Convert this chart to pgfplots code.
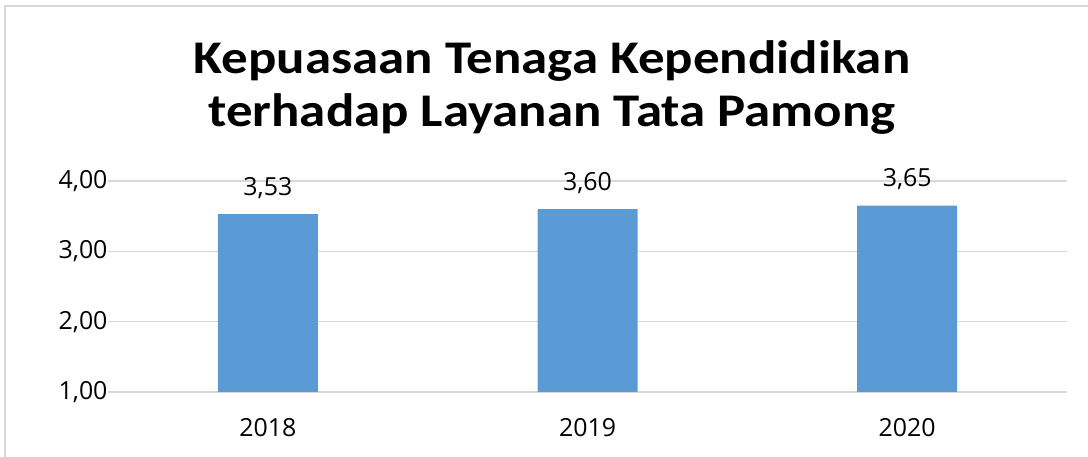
\documentclass[border=0pt]{standalone}
\usepackage{pgfplots}
\pgfplotsset{compat=1.18}
\usepackage{fontspec}
\setmainfont{Open Sans}
\newfontfamily\titlefont[FakeStretch=1.13]{Carlito}
\definecolor{barblue}{HTML}{5B9BD5}
\definecolor{gridgray}{HTML}{D9D9D9}
\begin{document}
\begin{tikzpicture}[x=1bp,y=1bp]
\useasboundingbox (0,0) rectangle (1088,457);
\draw[gridgray, line width=2bp] (5,-5) -- (5,451) -- (1095,451);
\node[anchor=base, font=\titlefont\bfseries\fontsize{47}{52}\selectfont] at (552,383) {Kepuasaan Tenaga Kependidikan};
\node[anchor=base, font=\titlefont\bfseries\fontsize{47}{52}\selectfont] at (552,330) {terhadap Layanan Tata Pamong};
\begin{axis}[
  at={(108bp,65bp)}, anchor=south west,
  scale only axis, width=959bp, height=211bp,
  xmin=-0.5, xmax=2.5, ymin=1, ymax=4,
  xtick={0,1,2}, xticklabels={2018,2019,2020},
  ytick={1,2,3,4},
  axis line style={draw=none},
  major tick length=0pt,
  ymajorgrids, grid style={gridgray, line width=1.2bp},
  /pgf/number format/.cd, fixed, fixed zerofill, precision=2, use comma, assume math mode=true,
  /pgfplots/.cd,
  yticklabel style={font=\fontsize{25}{28}\selectfont, anchor=east, xshift=3bp},
  xticklabel style={font=\fontsize{25}{28}\selectfont, yshift=-23bp},
  nodes near coords,
  nodes near coords style={font=\fontsize{25}{28}\selectfont, yshift=12bp,
    /pgf/number format/.cd, fixed, fixed zerofill, precision=2, use comma, assume math mode=true},
  clip=false,
]
\addplot[ybar, bar width=100bp, fill=barblue, draw=none] coordinates {(0,3.53) (1,3.60) (2,3.65)};
\end{axis}
\end{tikzpicture}
\end{document}
